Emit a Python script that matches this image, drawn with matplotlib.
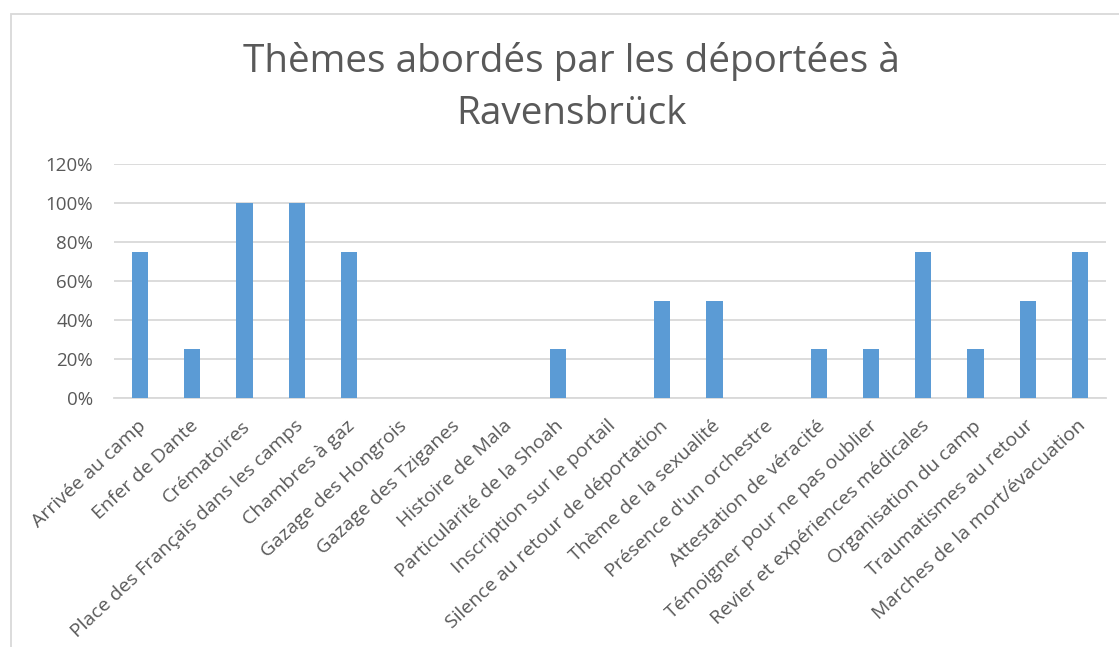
import matplotlib
matplotlib.use("Agg")
import matplotlib.pyplot as plt
from matplotlib.patches import Rectangle
from matplotlib.ticker import PercentFormatter
import matplotlib.transforms as mtransforms

categories = [
    "Arrivée au camp", "Enfer de Dante", "Crématoires",
    "Place des Français dans les camps", "Chambres à gaz",
    "Gazage des Hongrois", "Gazage des Tziganes", "Histoire de Mala",
    "Particularité de la Shoah", "Inscription sur le portail",
    "Silence au retour de déportation", "Thème de la sexualité",
    "Présence d'un orchestre", "Attestation de véracité",
    "Témoigner pour ne pas oublier", "Revier et expériences médicales",
    "Organisation du camp", "Traumatismes au retour",
    "Marches de la mort/évacuation",
]
values = [0.75, 0.25, 1.00, 1.00, 0.75, 0, 0, 0, 0.25, 0, 0.50, 0.50,
          0, 0.25, 0.25, 0.75, 0.25, 0.50, 0.75]
title_lines = ["Thèmes abordés par les déportées à", "Ravensbrück"]

TEXT = "#595959"
GRID = "#D9D9D9"
BAR = "#5B9BD5"
FONT = "Open Sans"

W, H = 1119, 647
fig = plt.figure(figsize=(W / 100, H / 100), dpi=100)
fig.patch.set_facecolor("white")

# chart frame
fig.patches.append(Rectangle((10.5 / W, -0.1), 1.2, 1 - 13.5 / H + 0.1,
                             transform=fig.transFigure, fill=False,
                             edgecolor=GRID, linewidth=1.3))

ax = fig.add_axes([114 / W, 1 - 398 / H, (1106 - 114) / W, (398 - 164) / H])
x = list(range(len(categories)))
ax.bar(x, values, width=0.31, color=BAR, zorder=3)
ax.set_xlim(-0.5, len(categories) - 0.5)
ax.set_ylim(0, 1.2)
ax.set_yticks([0, 0.2, 0.4, 0.6, 0.8, 1.0, 1.2])
ax.yaxis.set_major_formatter(PercentFormatter(1.0, decimals=0))
ax.grid(axis="y", color=GRID, linewidth=1.3, zorder=0)
for s in ["top", "right", "left"]:
    ax.spines[s].set_visible(False)
ax.spines["bottom"].set_color(GRID)
ax.spines["bottom"].set_linewidth(1.3)
ax.tick_params(axis="both", length=0, colors=TEXT)
ax.tick_params(axis="y", pad=15, labelsize=13.5)
ax.set_xticks(x)
ax.set_xticklabels(categories, rotation=43, ha="right",
                   rotation_mode="anchor", fontsize=14, color=TEXT,
                   family=FONT)
offset = mtransforms.ScaledTranslation(-2 / 72, -10 / 72, fig.dpi_scale_trans)
for lab in ax.get_xticklabels():
    lab.set_transform(lab.get_transform() + offset)
for lab in ax.get_yticklabels():
    lab.set_family(FONT)

fig.text(0.5105, 1 - 72 / H, title_lines[0], ha="center", va="baseline",
         fontsize=27.9, color=TEXT, family=FONT)
fig.text(0.5105, 1 - 124 / H, title_lines[1], ha="center", va="baseline",
         fontsize=27.9, color=TEXT, family=FONT)

fig.savefig("out.png", dpi=100, facecolor="white")
